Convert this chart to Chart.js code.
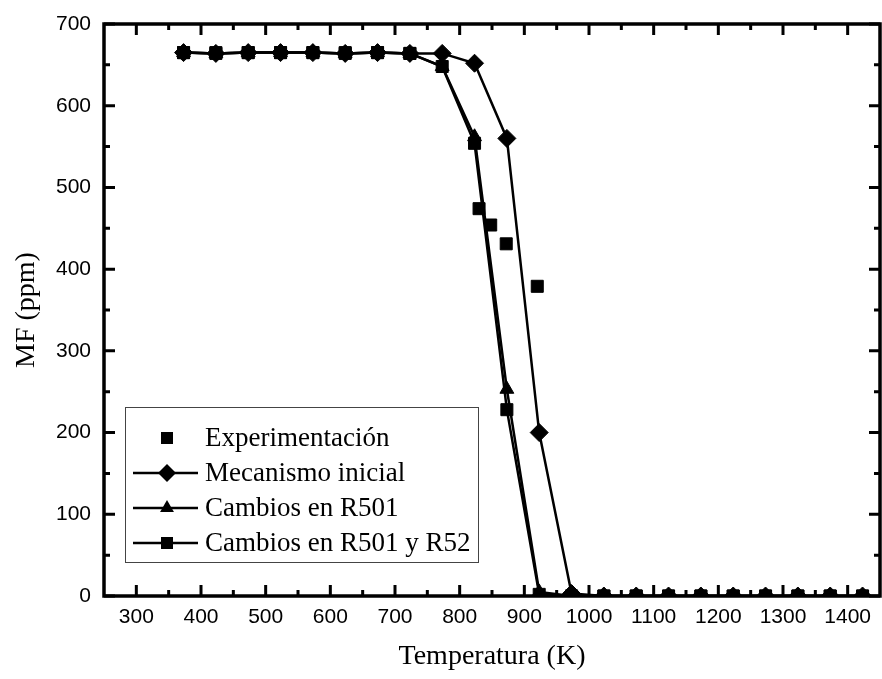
<!DOCTYPE html>
<html>
<head>
<meta charset="utf-8">
<script src="https://cdn.jsdelivr.net/npm/chart.js@4/dist/chart.umd.min.js"></script>
<style>
html,body{margin:0;padding:0;background:#fff;}
canvas{display:block;}
</style>
</head>
<body>
<canvas id="c" width="882" height="679"></canvas>
<script>
// ---- data ----
const simTemps = [373,423,473,523,573,623,673,723,773,823,873,923,973,1023,1073,1123,1173,1223,1273,1323,1373,1423];
const mecanismoInicial = [665,664,665,665,665,664,665,664,664,652,560,200,3,0,0,0,0,0,0,0,0,0];
const cambiosR501 = [665,664,665,665,665,664,665,664,648,562,253,5,0,0,0,0,0,0,0,0,0,0];
const cambiosR501R52 = [665,664,665,665,665,664,665,664,648,554,228,2,0,0,0,0,0,0,0,0,0,0];
const expTemps = [373,423,473,523,573,623,673,723,830,848,872,920,973,1023,1073,1123,1173,1223,1273,1323,1373,1423];
const expMF = [665,665,665,665,665,665,665,664,474,454,431,379,0,0,0,0,0,0,0,0,0,0];
const xTickValues = [300,400,500,600,700,800,900,1000,1100,1200,1300,1400];
const xMinorValues = [350,450,550,650,750,850,950,1050,1150,1250,1350];
const yTickValues = [0,100,200,300,400,500,600,700];
const yMinorValues = [50,150,250,350,450,550,650];
const labels = ["Experimentación","Mecanismo inicial","Cambios en R501","Cambios en R501 y R52"];
const xTitle = "Temperatura (K)";
const yTitle = "MF (ppm)";

function pts(xs, ys){ return xs.map((x,i)=>({x:x, y:ys[i]})); }

const serif = "'Liberation Serif','Times New Roman',serif";
const sans = "'Liberation Sans',Arial,sans-serif";

const frame = {
  id:'frame',
  afterDatasetsDraw(chart){
    const ctx = chart.ctx, a = chart.chartArea;
    const xs = chart.scales.x, ys = chart.scales.y;
    ctx.save();
    ctx.strokeStyle = '#000';
    ctx.lineWidth = 3;
    ctx.lineCap = 'butt';
    ctx.beginPath();
    const maj = 11, min = 6;
    xTickValues.forEach(v=>{const p=xs.getPixelForValue(v);
      ctx.moveTo(p,a.bottom); ctx.lineTo(p,a.bottom-maj);
      ctx.moveTo(p,a.top); ctx.lineTo(p,a.top+maj);});
    xMinorValues.forEach(v=>{const p=xs.getPixelForValue(v);
      ctx.moveTo(p,a.bottom); ctx.lineTo(p,a.bottom-min);
      ctx.moveTo(p,a.top); ctx.lineTo(p,a.top+min);});
    yTickValues.forEach(v=>{const p=ys.getPixelForValue(v);
      ctx.moveTo(a.left,p); ctx.lineTo(a.left+maj,p);
      ctx.moveTo(a.right,p); ctx.lineTo(a.right-maj,p);});
    yMinorValues.forEach(v=>{const p=ys.getPixelForValue(v);
      ctx.moveTo(a.left,p); ctx.lineTo(a.left+min,p);
      ctx.moveTo(a.right,p); ctx.lineTo(a.right-min,p);});
    ctx.stroke();
    ctx.lineWidth = 3.5;
    ctx.strokeRect(a.left, a.top, a.right-a.left, a.bottom-a.top);
    ctx.restore();
  }
};

function marker(ctx, style, x, y, r){
  ctx.beginPath();
  if(style==='rect'){ const s=Math.SQRT1_2*r; ctx.rect(x-s,y-s,2*s,2*s); }
  else if(style==='rectRot'){ ctx.moveTo(x,y-r); ctx.lineTo(x+r,y); ctx.lineTo(x,y+r); ctx.lineTo(x-r,y); ctx.closePath(); }
  else if(style==='triangle'){ ctx.moveTo(x,y-r); ctx.lineTo(x+r*0.866,y+r*0.5); ctx.lineTo(x-r*0.866,y+r*0.5); ctx.closePath(); }
  ctx.fillStyle='#000'; ctx.fill();
}

const legendBox = {
  id:'legendBox',
  afterDraw(chart){
    const ctx = chart.ctx;
    const bx=125, by=407, bw=353, bh=155;
    ctx.save();
    ctx.fillStyle='#fff';
    ctx.fillRect(bx,by,bw,bh);
    ctx.strokeStyle='#444'; ctx.lineWidth=1;
    ctx.strokeRect(bx+0.5,by+0.5,bw,bh);
    const rowY=[438,473,508,543];
    chart.data.datasets.forEach((ds,i)=>{
      const y=rowY[i];
      if(ds.showLine!==false){
        ctx.strokeStyle='#000'; ctx.lineWidth=2.5;
        ctx.beginPath(); ctx.moveTo(133,y); ctx.lineTo(198,y); ctx.stroke();
      }
      marker(ctx, ds.pointStyle, 167, y, ds.pointRadius);
      ctx.fillStyle='#000';
      ctx.font='27px '+serif;
      ctx.textBaseline='middle'; ctx.textAlign='left';
      ctx.fillText(ds.label, 205, y+1);
    });
    ctx.restore();
  }
};

const common = {borderColor:'#000', backgroundColor:'#000', pointBackgroundColor:'#000', pointBorderColor:'#000', pointBorderWidth:1, borderWidth:2.5, clip:0, tension:0};

new Chart(document.getElementById('c'), {
  type:'line',
  data:{datasets:[
    Object.assign({}, common, {label:labels[0], data:pts(expTemps,expMF), showLine:false, pointStyle:'rect', pointRadius:8.5}),
    Object.assign({}, common, {label:labels[1], data:pts(simTemps,mecanismoInicial), pointStyle:'rectRot', pointRadius:9}),
    Object.assign({}, common, {label:labels[2], data:pts(simTemps,cambiosR501), pointStyle:'triangle', pointRadius:8}),
    Object.assign({}, common, {label:labels[3], data:pts(simTemps,cambiosR501R52), pointStyle:'rect', pointRadius:8.5})
  ]},
  options:{
    responsive:false, animation:false, devicePixelRatio:1,
    layout:{autoPadding:false, padding:{top:24,right:2,left:10,bottom:6}},
    plugins:{legend:{display:false}, tooltip:{enabled:false}},
    scales:{
      x:{type:'linear', position:'bottom', min:250, max:1450,
         grid:{display:false, drawTicks:false}, border:{display:false},
         afterBuildTicks:s=>{s.ticks=xTickValues.map(v=>({value:v}));},
         afterFit:s=>{s.height=679-596-6; s.paddingLeft=0; s.paddingRight=0;},
         ticks:{color:'#000', font:{family:sans, size:21}, padding:9, maxRotation:0, autoSkip:false, callback:v=>String(v)},
         title:{display:true, text:xTitle, color:'#000', font:{family:serif, size:28}, padding:{top:0,bottom:0}}},
      y:{type:'linear', min:0, max:700,
         grid:{display:false, drawTicks:false}, border:{display:false},
         afterBuildTicks:s=>{s.ticks=yTickValues.map(v=>({value:v}));},
         afterFit:s=>{s.width=104-10; s.paddingTop=0; s.paddingBottom=0;},
         ticks:{color:'#000', font:{family:sans, size:21}, padding:13, callback:v=>String(v)},
         title:{display:true, text:yTitle, color:'#000', font:{family:serif, size:28}, padding:{top:0,bottom:0}}}
    }
  },
  plugins:[frame, legendBox]
});
</script>
</body>
</html>
